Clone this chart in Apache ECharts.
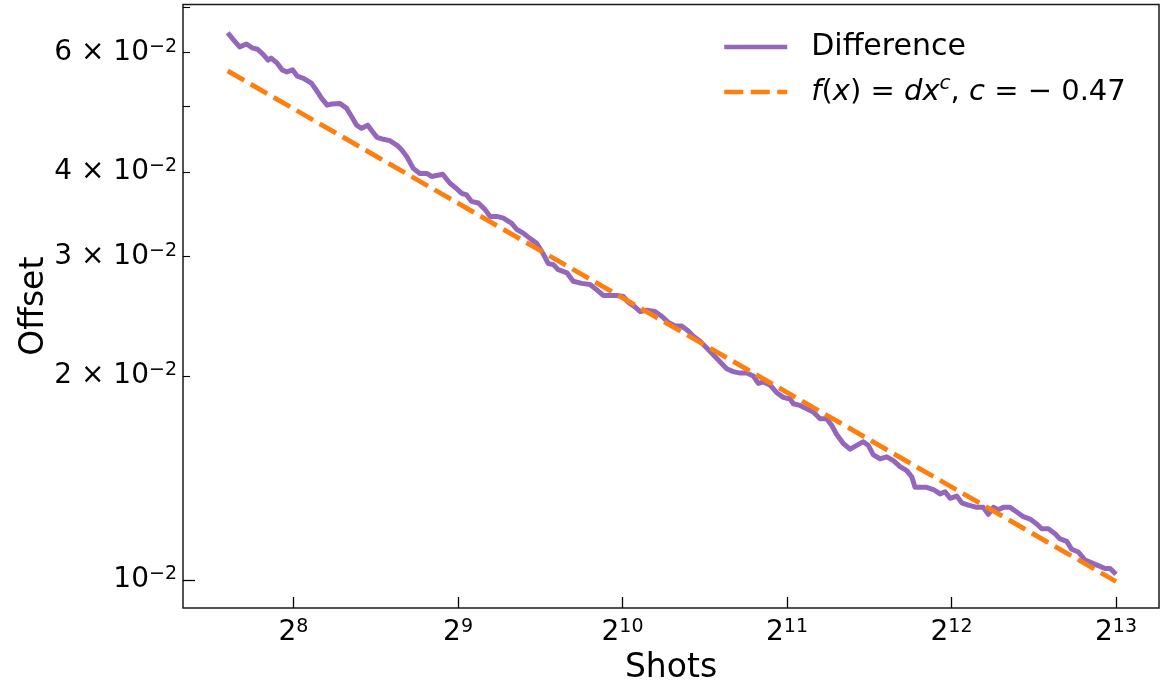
<!DOCTYPE html>
<html><head><meta charset="utf-8">
<script src="https://cdn.jsdelivr.net/npm/echarts@6/dist/echarts.min.js"></script>
<style>html,body{margin:0;padding:0;background:#fff}#c{width:1163px;height:690px}</style>
</head><body><div id="c"></div>
<script>
// ---- data ----
const shots = [194,199,204,210,215,220,225,230,233,239,
  244,249,255,260,267,276,282,288,295,301,
  311,320,327,334,341,350,357,364,374,384,
  396,404,413,424,436,449,458,480,495,509,
  520,531,542,558,574,586,603,620,642,656,
  674,694,713,733,749,765,781,810,832,862,
  893,919,944,971,999,1028,1049,1079,1102,1134,
  1174,1208,1242,1278,1314,1351,1380,1420,1460,1501,
  1544,1588,1633,1680,1728,1777,1815,1853,1906,1961,
  2016,2074,2103,2163,2225,2288,2354,2421,2473,2525,
  2596,2671,2747,2825,2885,2946,3031,3118,3206,3297,
  3392,3464,3512,3587,3690,3794,3903,3986,4071,4187,
  4276,4397,4555,4683,4783,4885,4989,5095,5241,5392,
  5543,5702,5865,5990,6159,6336,6470,6656,6797,6989,
  7189,7395,7604,7821,7988,8192];
const difference = [0.0642,0.0626,0.0612,0.0618,0.0610,0.0607,0.0597,0.0585,0.0589,0.0579,
  0.0566,0.0562,0.0566,0.0554,0.0550,0.0541,0.0528,0.0514,0.0502,0.0504,
  0.0505,0.0497,0.0483,0.0469,0.0464,0.0469,0.0459,0.0450,0.0447,0.0445,
  0.0438,0.0431,0.0421,0.0405,0.0398,0.0398,0.0394,0.0397,0.0385,0.0378,
  0.0372,0.0370,0.0362,0.0360,0.0352,0.0344,0.0344,0.0342,0.0336,0.0329,
  0.0325,0.0319,0.0314,0.0303,0.0293,0.0292,0.0287,0.0284,0.0276,0.0274,
  0.0273,0.0268,0.0263,0.0263,0.0263,0.0262,0.0257,0.0253,0.0249,0.0250,
  0.0249,0.0245,0.0240,0.0237,0.0237,0.0233,0.0229,0.0225,0.0220,0.0215,
  0.0210,0.0205,0.0203,0.0202,0.0202,0.0200,0.0195,0.0196,0.0194,0.0189,
  0.0186,0.0185,0.0182,0.0181,0.0179,0.0177,0.0173,0.0173,0.0169,0.0164,
  0.0159,0.0156,0.0158,0.0160,0.0158,0.0153,0.0151,0.0152,0.0150,0.0147,
  0.0145,0.0142,0.0137,0.0137,0.0137,0.0136,0.0134,0.0135,0.0132,0.0133,
  0.0130,0.0129,0.0128,0.0128,0.0125,0.0128,0.0127,0.0128,0.0128,0.0126,
  0.0124,0.0123,0.0121,0.0119,0.0119,0.0117,0.0115,0.0114,0.0111,0.0110,
  0.0107,0.0106,0.0105,0.0104,0.0104,0.0102];
const fitShots = [194, 8192];
const fitOffset = [0.0564, 0.00995];
const xTicks = [256, 512, 1024, 2048, 4096, 8192];
const yMajorTicks = [0.01];
const yMinorTicks = [0.02, 0.03, 0.04, 0.05, 0.06, 0.07];
const yMinorLabelled = [0.02, 0.03, 0.04, 0.06];
const seriesNames = ['Difference', 'fit'];

// ---- chart ----
const FONT = 'DejaVu Sans';
const X_MIN = 160.7, X_MAX = 9818, Y_MIN = 0.009093, Y_MAX = 0.07067;
const PURPLE = '#9467bd', ORANGE = '#ff7f0e';
const DASH = [19, 7.5];
const zip = (a, b) => a.map((v, i) => [v, b[i]]);

const supRich = {
  b: {fontFamily: FONT, fontSize: 28, lineHeight: 30, color: '#000'},
  s: {fontFamily: FONT, fontSize: 19, lineHeight: 16, verticalAlign: 'top', color: '#000'}
};
const yFmt = v => {
  const m = Math.round(v * 100);
  return m === 1 ? '{b|10}{s|\u22122}' : '{b|' + m + ' \u00d7 10}{s|\u22122}';
};
const grid = {left: 183, right: 4, top: 4.5, bottom: 82};

const chart = echarts.init(document.getElementById('c'));
chart.setOption({
  animation: false,
  backgroundColor: '#fff',
  grid: [
    Object.assign({show: true, borderColor: '#1a1a1a', borderWidth: 1.5, backgroundColor: 'transparent'}, grid),
    Object.assign({show: false}, grid)
  ],
  xAxis: [{
    type: 'log', logBase: 2, gridIndex: 0, min: X_MIN, max: X_MAX,
    axisLine: {show: false}, splitLine: {show: false}, minorTick: {show: false},
    axisTick: {inside: true, length: 11, customValues: xTicks, lineStyle: {color: '#000', width: 1.3}},
    axisLabel: {customValues: xTicks, margin: 10, formatter: v => '{b|2}{s|' + Math.round(Math.log2(v)) + '}', rich: supRich},
    name: 'Shots', nameLocation: 'middle', nameGap: 42,
    nameTextStyle: {fontFamily: FONT, fontSize: 33, color: '#000'}
  }, {
    type: 'log', logBase: 2, gridIndex: 1, min: X_MIN, max: X_MAX, show: false
  }],
  yAxis: [{
    type: 'log', logBase: 10, gridIndex: 0, min: Y_MIN, max: Y_MAX,
    axisLine: {show: false}, splitLine: {show: false}, minorTick: {show: false},
    axisTick: {inside: true, length: 12, customValues: yMajorTicks, lineStyle: {color: '#000', width: 1.3}},
    axisLabel: {customValues: yMajorTicks, margin: 6, formatter: yFmt, rich: supRich},
    name: 'Offset', nameLocation: 'middle', nameGap: 132,
    nameTextStyle: {fontFamily: FONT, fontSize: 33, color: '#000'}
  }, {
    type: 'log', logBase: 10, gridIndex: 1, min: Y_MIN, max: Y_MAX,
    axisLine: {show: false}, splitLine: {show: false}, minorTick: {show: false},
    axisTick: {inside: true, length: 7, customValues: yMinorTicks, lineStyle: {color: '#000', width: 1.1}},
    axisLabel: {customValues: yMinorLabelled, margin: 6, formatter: yFmt, rich: supRich}
  }],
  legend: {
    orient: 'vertical', left: 717, top: 24, itemWidth: 63, itemHeight: 14, itemGap: 9,
    itemStyle: {opacity: 0},
    data: [
      {name: seriesNames[0], itemStyle: {opacity: 0}, lineStyle: {color: PURPLE, width: 4.5, type: 'solid'}},
      {name: seriesNames[1], itemStyle: {opacity: 0}, lineStyle: {color: ORANGE, width: 4.5, type: DASH}}
    ],
    formatter: n => n === 'fit'
      ? '{i|f}{n|(}{i|x}{n|) = }{i|dx}{s|c}{n|, }{i|c}{n| = \u2212 0.47}'
      : n,
    textStyle: {
      fontFamily: FONT, fontSize: 30, color: '#000', lineHeight: 36, padding: [0, 0, 0, 19],
      rich: {
        n: {fontFamily: FONT, fontSize: 29, lineHeight: 36, color: '#000'},
        i: {fontFamily: FONT, fontStyle: 'italic', fontSize: 29, lineHeight: 36, color: '#000'},
        s: {fontFamily: FONT, fontStyle: 'italic', fontSize: 20, lineHeight: 22, verticalAlign: 'top', color: '#000'}
      }
    }
  },
  series: [{
    name: seriesNames[0], type: 'line', xAxisIndex: 0, yAxisIndex: 0,
    data: zip(shots, difference), symbol: 'none', showSymbol: false,
    lineStyle: {color: PURPLE, width: 5, join: 'round'}, itemStyle: {color: PURPLE}
  }, {
    name: seriesNames[1], type: 'line', xAxisIndex: 0, yAxisIndex: 0,
    data: zip(fitShots, fitOffset), symbol: 'none', showSymbol: false,
    lineStyle: {color: ORANGE, width: 4.8, type: DASH}, itemStyle: {color: ORANGE}
  }]
});
</script></body></html>
